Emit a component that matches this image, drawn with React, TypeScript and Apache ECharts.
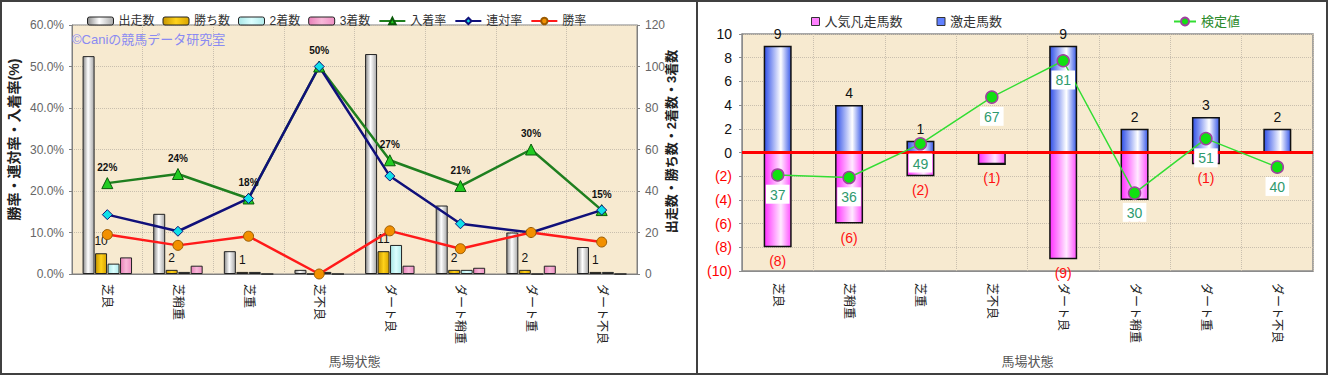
import React, { useEffect, useRef } from "react";
import * as echarts from "echarts";

const categories = ["芝良", "芝稍重", "芝重", "芝不良", "ダート良", "ダート稍重", "ダート重", "ダート不良"];
// left chart: counts
const runners = [105, 29, 11, 2, 106, 33, 20, 13];
const wins = [10, 2, 1, 0, 11, 2, 2, 1];
const seconds = [5, 1, 1, 1, 14, 2, 0, 1];
const thirds = [8, 4, 0, 0, 4, 3, 4, 0];
// left chart: rates (%)
const showRate = [21.9, 24.1, 18.2, 50.0, 27.4, 21.2, 30.0, 15.4];
const quinellaRate = [14.3, 10.3, 18.2, 50.0, 23.6, 12.1, 10.0, 15.4];
const winRate = [9.5, 6.9, 9.1, 0.0, 10.4, 6.1, 10.0, 7.7];
// right chart
const upsetCount = [9, 4, 1, 0, 9, 2, 3, 2];
const flopCount = [-8, -6, -2, -1, -9, -4, -1, 0];
const testValue = [37, 36, 49, 67, 81, 30, 51, 40];

const FONT = "'Liberation Sans', 'Noto Sans CJK JP', sans-serif";
const PLOT_BG = "#f7ead0";

const hGrad = (stops: [number, string][]) => ({
  type: "linear",
  x: 0,
  y: 0,
  x2: 1,
  y2: 0,
  colorStops: stops.map(([offset, color]) => ({ offset, color })),
});

function leftOption(): any {
  const catAxis = {
    type: "category",
    data: categories,
    axisTick: { show: false },
    axisLine: { lineStyle: { color: "#808080" } },
    axisLabel: { rotate: -90, color: "#222", fontSize: 12, fontFamily: FONT, margin: 10 },
    splitLine: { show: true, lineStyle: { color: "#c9bfae", type: "dotted" } },
    name: "馬場状態",
    nameLocation: "middle",
    nameGap: 81,
    nameMoveOverlap: false,
    nameTextStyle: { color: "#555", fontSize: 13, fontFamily: FONT },
  };
  const barBase = {
    type: "bar",
    yAxisIndex: 1,
    barWidth: 12,
    barGap: "4%",
    barCategoryGap: "28%",
  };
  const lineBase = {
    type: "line",
    yAxisIndex: 0,
    lineStyle: { width: 2.5 },
    z: 5,
  };
  return {
    animation: false,
    textStyle: { fontFamily: FONT },
    grid: {
      left: 70,
      right: 59,
      top: 23,
      bottom: 99,
      outerBoundsMode: "none",
      containLabel: false,
      show: true,
      backgroundColor: PLOT_BG,
      borderColor: "#808080",
      borderWidth: 1,
    },
    legend: {
      left: 80,
      top: 8,
      itemGap: 8,
      textStyle: { color: "#333", fontSize: 12, fontFamily: FONT },
      data: [
        { name: "出走数", icon: "roundRect", itemStyle: { borderColor: "#222", borderWidth: 1 } },
        { name: "勝ち数", icon: "roundRect", itemStyle: { borderColor: "#222", borderWidth: 1 } },
        { name: "2着数", icon: "roundRect", itemStyle: { borderColor: "#222", borderWidth: 1 } },
        { name: "3着数", icon: "roundRect", itemStyle: { borderColor: "#222", borderWidth: 1 } },
        { name: "入着率" },
        { name: "連対率" },
        { name: "勝率" },
      ],
      itemWidth: 26,
      itemHeight: 8,
    },
    xAxis: catAxis,
    yAxis: [
      {
        type: "value",
        min: 0,
        max: 60,
        interval: 10,
        axisLine: { show: true, lineStyle: { color: "#808080" } },
        axisTick: { show: true, length: 3 },
        axisLabel: { color: "#666", fontSize: 12, fontFamily: FONT, formatter: (v: number) => v.toFixed(1) + "%" },
        splitLine: { lineStyle: { color: "#c9bfae", type: "dotted" } },
        name: "勝率・連対率・入着率(%)",
        nameLocation: "middle",
        nameGap: 51,
        nameMoveOverlap: false,
        nameRotate: 90,
        nameTextStyle: { color: "#222", fontSize: 14, fontWeight: "bold", fontFamily: FONT, padding: [0, 0, 0, 20] },
      },
      {
        type: "value",
        min: 0,
        max: 120,
        interval: 20,
        position: "right",
        axisLine: { show: true, lineStyle: { color: "#808080" } },
        axisTick: { show: true, length: 3 },
        axisLabel: { color: "#666", fontSize: 12, fontFamily: FONT },
        splitLine: { show: false },
        name: "出走数・勝ち数・2着数・3着数",
        nameLocation: "middle",
        nameGap: 28,
        nameMoveOverlap: false,
        nameRotate: 90,
        nameTextStyle: { color: "#222", fontSize: 13, fontWeight: "bold", fontFamily: FONT, padding: [0, 0, 0, 16] },
      },
    ],
    graphic: [
      {
        type: "text",
        left: 70,
        top: 31,
        z: 10,
        style: { text: "©Caniの競馬データ研究室", fill: "#8a8af2", font: `13px ${FONT}` },
      },
    ],
    series: [
      {
        ...barBase,
        name: "出走数",
        data: runners,
        itemStyle: {
          color: hGrad([[0, "#8a8a8a"], [0.45, "#ffffff"], [1, "#a8a8a8"]]),
          borderColor: "#222",
          borderWidth: 1,
        },
      },
      {
        ...barBase,
        name: "勝ち数",
        data: wins,
        itemStyle: {
          color: hGrad([[0, "#c89600"], [0.5, "#ffd21a"], [1, "#d8a400"]]),
          borderColor: "#222",
          borderWidth: 1,
        },
        label: {
          show: true,
          position: "top",
          distance: 6,
          color: "#111",
          fontSize: 12,
          fontFamily: FONT,
          formatter: (p: any) => (p.value ? String(p.value) : ""),
        },
      },
      {
        ...barBase,
        name: "2着数",
        data: seconds,
        itemStyle: {
          color: hGrad([[0, "#a8e6e6"], [0.5, "#dcffff"], [1, "#b0eaea"]]),
          borderColor: "#222",
          borderWidth: 1,
        },
      },
      {
        ...barBase,
        name: "3着数",
        data: thirds,
        itemStyle: {
          color: hGrad([[0, "#e880b8"], [0.5, "#f8b8d8"], [1, "#ee90c4"]]),
          borderColor: "#222",
          borderWidth: 1,
        },
      },
      {
        ...lineBase,
        name: "入着率",
        data: showRate,
        symbol: "triangle",
        symbolSize: 11,
        color: "#1f8a1f",
        lineStyle: { width: 2.5, color: "#1f7f1f" },
        itemStyle: { color: "#22cc22", borderColor: "#0a5a0a", borderWidth: 1 },
        label: {
          show: true,
          position: "top",
          distance: 5,
          color: "#111",
          fontSize: 10,
          fontWeight: "bold",
          fontFamily: FONT,
          formatter: (p: any) => Math.round(p.value) + "%",
        },
      },
      {
        ...lineBase,
        name: "連対率",
        data: quinellaRate,
        symbol: "diamond",
        symbolSize: 10,
        color: "#10107a",
        lineStyle: { width: 2.5, color: "#10107a" },
        itemStyle: { color: "#10e0e8", borderColor: "#10107a", borderWidth: 1 },
      },
      {
        ...lineBase,
        name: "勝率",
        data: winRate,
        symbol: "circle",
        symbolSize: 10,
        color: "#ff1a1a",
        lineStyle: { width: 2.5, color: "#ff1a1a" },
        itemStyle: { color: "#f29000", borderColor: "#9a5a00", borderWidth: 1 },
      },
    ],
  };
}

function rightOption(): any {
  return {
    animation: false,
    textStyle: { fontFamily: FONT },
    grid: {
      left: 44,
      right: 13,
      top: 32,
      bottom: 102,
      outerBoundsMode: "none",
      containLabel: false,
      show: true,
      backgroundColor: PLOT_BG,
      borderColor: "#8c8c8c",
      borderWidth: 1.5,
    },
    legend: [
      {
        left: 108,
        top: 8,
        itemGap: 34,
        itemWidth: 8,
        itemHeight: 8,
        icon: "rect",
        textStyle: { color: "#333", fontSize: 13, fontFamily: FONT },
        data: [
          { name: "人気凡走馬数", itemStyle: { color: "#ff80ff", borderColor: "#333", borderWidth: 1 } },
          { name: "激走馬数", itemStyle: { color: "#6080ff", borderColor: "#333", borderWidth: 1 } },
        ],
      },
      {
        left: 470,
        top: 8,
        itemWidth: 22,
        itemHeight: 10,
        textStyle: { color: "#2a8a2a", fontSize: 13, fontFamily: FONT },
        data: [{ name: "検定値" }],
      },
    ],
    xAxis: {
      type: "category",
      data: categories,
      axisTick: { show: false },
      axisLine: { onZero: false, lineStyle: { color: "#8c8c8c" } },
      axisLabel: { rotate: -90, color: "#222", fontSize: 12, fontFamily: FONT, margin: 12 },
      splitLine: { show: true, lineStyle: { color: "#c9bfae", type: "dotted" } },
      name: "馬場状態",
      nameLocation: "middle",
      nameGap: 84,
      nameMoveOverlap: false,
      nameTextStyle: { color: "#555", fontSize: 13, fontFamily: FONT },
    },
    yAxis: [
      {
        type: "value",
        min: -10,
        max: 10,
        interval: 2,
        axisLine: { show: true, lineStyle: { color: "#8c8c8c" } },
        axisTick: { show: true, length: 3 },
        axisLabel: {
          fontFamily: FONT,
          margin: 10,
          formatter: (v: number) => (v < 0 ? `{neg|(${-v})}` : `{pos|${v}}`),
          rich: {
            neg: { color: "#ff0000", fontSize: 14, fontFamily: FONT },
            pos: { color: "#111", fontSize: 14, fontFamily: FONT },
          },
        },
        splitLine: { lineStyle: { color: "#c9bfae", type: "dotted" } },
      },
      {
        type: "value",
        min: 0,
        max: 91.3,
        show: false,
        splitLine: { show: false },
      },
    ],
    series: [
      {
        type: "bar",
        name: "人気凡走馬数",
        stack: "m",
        data: flopCount,
        barWidth: 28,
        itemStyle: {
          color: hGrad([[0, "#ff30ff"], [0.62, "#ffeaff"], [1, "#ff50ff"]]),
          borderColor: "#111",
          borderWidth: 1.5,
        },
        label: {
          show: true,
          position: "bottom",
          distance: 7,
          color: "#ff1010",
          fontSize: 14,
          fontFamily: FONT,
          formatter: (p: any) => (p.value ? `(${-p.value})` : ""),
        },
      },
      {
        type: "bar",
        name: "激走馬数",
        stack: "m",
        data: upsetCount,
        barWidth: 28,
        itemStyle: {
          color: hGrad([[0, "#3050e8"], [0.62, "#ffffff"], [1, "#3a5ae8"]]),
          borderColor: "#111",
          borderWidth: 1.5,
        },
        label: {
          show: true,
          position: "top",
          distance: 5,
          color: "#111",
          fontSize: 14,
          fontFamily: FONT,
          formatter: (p: any) => (p.value ? String(p.value) : ""),
        },
        markLine: {
          silent: true,
          symbol: "none",
          label: { show: false },
          lineStyle: { color: "#ff0000", width: 3, type: "solid" },
          data: [{ yAxis: 0 }],
          z: 6,
        },
      },
      {
        type: "line",
        name: "検定値",
        yAxisIndex: 1,
        data: testValue,
        z: 8,
        symbol: "circle",
        symbolSize: 12,
        color: "#22e022",
        lineStyle: { color: "#33dd33", width: 1.5 },
        itemStyle: { color: "#11e011", borderColor: "#a040a0", borderWidth: 1.5 },
        label: {
          show: true,
          position: "bottom",
          distance: 3,
          color: "#2e9a6e",
          fontSize: 14,
          fontFamily: FONT,
          backgroundColor: "#ffffff",
          padding: [3, 4, 2, 4],
        },
      },
    ],
  };
}

export default function App() {
  const leftRef = useRef<HTMLDivElement>(null);
  const rightRef = useRef<HTMLDivElement>(null);
  useEffect(() => {
    const l = echarts.init(leftRef.current!, undefined, { renderer: "svg" });
    const r = echarts.init(rightRef.current!, undefined, { renderer: "svg" });
    l.setOption(leftOption());
    r.setOption(rightOption());
    return () => {
      l.dispose();
      r.dispose();
    };
  }, []);
  return (
    <div
      style={{
        position: "absolute",
        left: 0,
        top: 0,
        width: 1328,
        height: 375,
        boxSizing: "border-box",
        border: "2px solid #404040",
        background: "#ffffff",
      }}
    >
      <div ref={leftRef} style={{ position: "absolute", left: 0, top: 0, width: 694, height: 371 }} />
      <div style={{ position: "absolute", left: 694, top: 0, width: 2, height: 371, background: "#404040" }} />
      <div ref={rightRef} style={{ position: "absolute", left: 696, top: 0, width: 628, height: 371 }} />
    </div>
  );
}
